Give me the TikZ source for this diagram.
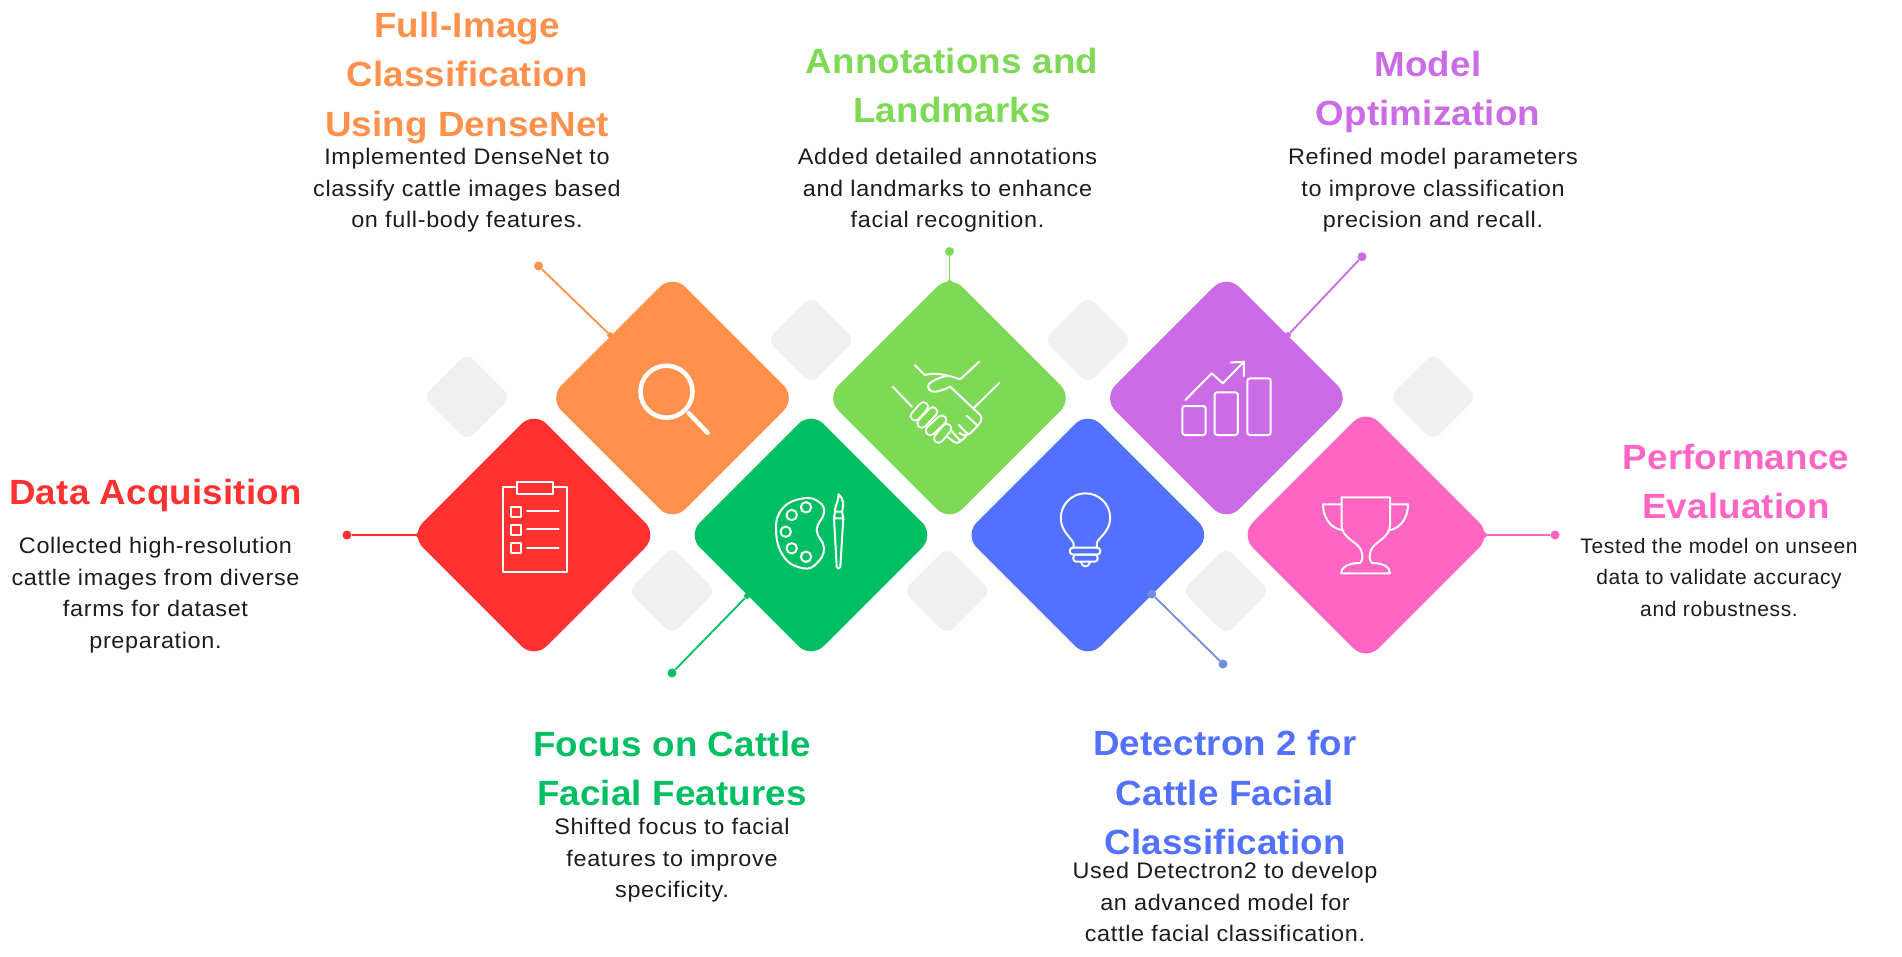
\documentclass[tikz,border=0pt]{standalone}
\usepackage{fontspec}
\setmainfont{Liberation Sans}
\newfontfamily\titlefont[FakeStretch=1.05,LetterSpace=0.5]{Liberation Sans Bold}
\newfontfamily\bodyfont[FakeStretch=1.04,LetterSpace=3]{Liberation Sans}
\newfontfamily\bodyfontsmall[LetterSpace=3]{Liberation Sans}
\definecolor{cRed}{HTML}{FF3131}
\definecolor{cOrange}{HTML}{FF914D}
\definecolor{cDark}{HTML}{00BF63}
\definecolor{cLime}{HTML}{7ED957}
\definecolor{cBlue}{HTML}{5271FF}
\definecolor{cPurple}{HTML}{CB6CE6}
\definecolor{cPink}{HTML}{FF66C4}
\definecolor{cGrey}{HTML}{F0F0F0}
\definecolor{cInk}{HTML}{1C1C1C}
\definecolor{cSteel}{HTML}{6F8FD8}
\tikzset{
  bigdia/.style={rectangle,rounded corners=18pt,rotate=45,minimum width=175pt,minimum height=175pt,inner sep=0pt,fill=#1,draw=none},
  greydia/.style={rectangle,rounded corners=9pt,rotate=45,minimum width=62pt,minimum height=62pt,inner sep=0pt,fill=cGrey,draw=none},
  enddot/.style={circle,fill=#1,minimum size=9pt,inner sep=0pt,draw=none},
  joint/.style={circle,fill=#1,minimum size=6pt,inner sep=0pt,draw=none},
  stem/.style={draw=#1,line width=1.8pt},
  ttl/.style={text=#1,align=center,inner sep=0pt,font=\titlefont\fontsize{35}{49.5}\selectfont},
  bdy/.style={text=cInk,align=center,inner sep=0pt,font=\bodyfont\fontsize{22.5}{31.5}\selectfont},
  bdysmall/.style={text=cInk,align=center,inner sep=0pt,font=\bodyfontsmall\fontsize{21}{31.5}\selectfont},
  ico/.style={draw=white,line width=2pt,line join=round,line cap=round,fill=none},
  icofat/.style={draw=white,line width=4.5pt,line cap=round,fill=none},
}
\begin{document}
\begin{tikzpicture}[x=1pt,y=-1pt]
\useasboundingbox (0,0) rectangle (1902,956);
% grey background diamonds
\node[greydia] (g1) at (467,397) {};
\node[greydia] (g2) at (811,340) {};
\node[greydia] (g3) at (1088,340) {};
\node[greydia] (g4) at (1433,397) {};
\node[greydia] (g5) at (672,591) {};
\node[greydia] (g6) at (947,591) {};
\node[greydia] (g7) at (1226,591) {};
% main diamonds
\node[bigdia=cRed] (dRed) at (534,535) {};
\node[bigdia=cOrange] (dOrange) at (672.5,398) {};
\node[bigdia=cDark] (dDark) at (811,535) {};
\node[bigdia=cLime] (dLime) at (949.5,398) {};
\node[bigdia=cBlue] (dBlue) at (1087.8,535) {};
\node[bigdia=cPurple] (dPurple) at (1226.4,398) {};
\node[bigdia=cPink,minimum width=178pt,minimum height=178pt] (dPink) at (1366,535) {};
% stems
\node[joint=cRed] (jRed) at (419,535) {};
\node[enddot=cRed] (eRed) at (347,535) {};
\draw[stem=cRed] (jRed) -- (eRed);
\node[joint=cOrange] (jOrange) at (610,335) {};
\node[enddot=cOrange] (eOrange) at (538.6,266) {};
\draw[stem=cOrange] (jOrange) -- (eOrange);
\node[joint=cDark] (jDark) at (747,596) {};
\node[enddot=cDark] (eDark) at (672,673) {};
\draw[stem=cDark] (jDark) -- (eDark);
\node[joint=cLime] (jLime) at (949.5,283) {};
\node[enddot=cLime] (eLime) at (949.5,251.5) {};
\draw[stem=cLime] (jLime) -- (eLime);
\node[enddot=cSteel] (jBlue) at (1151.8,594) {};
\node[enddot=cSteel] (eBlue) at (1223,664) {};
\draw[stem=cSteel] (jBlue) -- (eBlue);
\node[joint=cPurple] (jPurple) at (1288,335) {};
\node[enddot=cPurple] (ePurple) at (1362,256.7) {};
\draw[stem=cPurple] (jPurple) -- (ePurple);
\node[joint=cPink] (jPink) at (1484,535) {};
\node[enddot=cPink] (ePink) at (1555,535) {};
\draw[stem=cPink] (jPink) -- (ePink);
% clipboard
\begin{scope}[shift={(534,535)}]
\draw[ico] (-19,-48) -- (-31,-48) -- (-31,37) -- (33,37) -- (33,-48) -- (19,-48);
\draw[ico] (-17,-53) rectangle (19,-41);
\foreach \yy in {-28,-10,8}{\draw[ico] (-23.5,\yy) rectangle (-13.5,\yy+9.5);}
\foreach \yy in {-24,-5.7,12.7}{\draw[ico] (-7,\yy) -- (24.6,\yy);}
\end{scope}
% magnifier
\begin{scope}[shift={(672.5,398)}]
\draw[icofat] (-6,-6.3) circle [radius=26];
\draw[icofat] (16.4,15.3) -- (35,34.7);
\end{scope}
% palette and brush
\begin{scope}[shift={(811,535)}]
\draw[ico] plot[smooth cycle,tension=0.75] coordinates {(-35,-5) (-28,-27) (-7.7,-36.7) (8,-33) (13,-22) (5.7,-5) (13,13) (6,28) (-7.7,33.3) (-27,22)};
\foreach \hx/\hy in {-5/-27.7,-19.3/-20,-25.3/-3.3,-19.3/13.3,-5/21.7}{\draw[ico] (\hx,\hy) circle [radius=5.2];}
\draw[ico] (27.3,-41) .. controls (33,-36) and (33,-30) .. (31,-23.3) -- (24,-23.3) .. controls (24,-31) and (28,-33) .. (27.3,-41);
\draw[ico] (24,-23.3) -- (23,-16.7) -- (32.3,-16.7) -- (31,-23.3);
\draw[ico] (23,-16.7) -- (25.7,32) .. controls (26,34) and (29,34) .. (29.3,32) -- (32.3,-16.7);
\end{scope}
% handshake
\begin{scope}[shift={(949.5,398)}]
\draw[ico] (-34.7,-33) -- (-24.7,-23) .. controls (-15,-25.5) and (-5,-24) .. (10.7,-18.7) -- (29.7,-36.3);
\draw[ico] (-2.7,-22.5) .. controls (-10,-20) and (-17,-18) .. (-20.5,-14) .. controls (-23,-10) and (-20,-6) .. (-14.3,-6.3) .. controls (-9,-7) and (-4,-9) .. (0.7,-11.3) -- (30.7,17) .. controls (33,20) and (32,24) .. (28,28) .. controls (24,32) and (21,36) .. (17,37) .. controls (15,38) and (12,37) .. (10,35);
\draw[ico] (27.3,27) -- (17,17.5);
\draw[ico] (18,36) -- (9,26.5);
\draw[ico] (11,43) .. controls (9,46) and (5,45) .. (2,42) -- (-3,38);
\draw[ico] (17,37) .. controls (16,40) and (13,42) .. (11,43) -- (2,33);
\draw[ico] (50,-15.3) -- (24,10.3);
\draw[ico] (-56.7,-11.3) -- (-37.7,8.7);
\foreach \ax/\ay/\bx/\by in {-34.3/18/-26/8.7, -27.7/25.3/-16.7/13.7, -19.3/32.7/-7.7/22, -11/40.3/-2.7/30.3}{
  \draw[draw=white,line width=11pt,line cap=round] (\ax,\ay) -- (\bx,\by);
  \draw[draw=cLime,line width=7pt,line cap=round] (\ax,\ay) -- (\bx,\by);
}
\end{scope}
% bulb
\begin{scope}[shift={(1087.8,535)}]
\draw[ico] (-14.3,12.7) -- (-14.3,8.3) .. controls (-15,4) and (-27,-3) .. (-27,-17) arc[start angle=180,end angle=360,radius=24.7] .. controls (22.4,-3) and (9,4) .. (9,8.3) -- (9,12.7);
\draw[ico,rounded corners=3pt] (-18,12.7) rectangle (12.5,19.5);
\draw[ico,rounded corners=3pt] (-14.5,19.5) rectangle (9.8,26.7);
\draw[ico] (-7,26.7) .. controls (-6,33) and (1,33) .. (2.5,26.7);
\end{scope}
% chart
\begin{scope}[shift={(1226.4,398)}]
\draw[ico,rounded corners=2.5pt] (-44,8) rectangle (-20.7,37);
\draw[ico,rounded corners=2.5pt] (-11.8,-5.7) rectangle (11.4,37);
\draw[ico,rounded corners=2.5pt] (21,-19.7) rectangle (44.3,37);
\draw[ico] (-41,2) -- (-14.6,-24.7) -- (-3.6,-14.7) -- (17.5,-36.3);
\draw[ico] (4.3,-35.5) -- (17.5,-36.3) -- (17.5,-22);
\end{scope}
% trophy
\begin{scope}[shift={(1366,535)}]
\draw[ico] (-24.5,-10) -- (-24.5,-37.7) -- (24,-37.7) -- (24,-10) .. controls (24,3) and (8,7) .. (5,15) .. controls (3,20) and (3,25) .. (6,28) .. controls (17,28) and (24,32) .. (24,38.3) -- (-25,38.3) .. controls (-25,32) and (-17,28) .. (-6,28) .. controls (-3,25) and (-3,20) .. (-5,15) .. controls (-8,7) and (-24.5,3) .. (-24.5,-10);
\draw[ico] (-24.5,-30.7) -- (-43,-30.7) .. controls (-43,-18) and (-36,-7) .. (-24.5,-5);
\draw[ico] (24,-30.7) -- (42,-30.7) .. controls (42,-18) and (35,-7) .. (24,-5);
\end{scope}
% titles
\node[ttl=cRed] (tData) at (155.5,495.5) {Data Acquisition};
\node[ttl=cOrange] (tFull) at (467,78) {Full-Image\\Classification\\Using DenseNet};
\node[ttl=cDark] (tFocus) at (672,768.5) {Focus on Cattle\\Facial Features};
\node[ttl=cLime] (tLime) at (952,85.5) {Annotations and\\Landmarks};
\node[ttl=cBlue] (tBlue) at (1225,792.5) {Detectron 2 for\\Cattle Facial\\Classification};
\node[ttl=cPurple] (tPurple) at (1428,92) {Model\\Optimization};
\node[ttl=cPink] (tPink) at (1736,481.5) {Performance\\Evaluation};
% descriptions
\node[bdy] (bData) at (155.5,595) {Collected high-resolution\\cattle images from diverse\\farms for dataset\\preparation.};
\node[bdy] (bFull) at (467,190.5) {Implemented DenseNet to\\classify cattle images based\\on full-body features.};
\node[bdy] (bFocus) at (672,860.5) {Shifted focus to facial\\features to improve\\specificity.};
\node[bdy] (bLime) at (947.5,190.5) {Added detailed annotations\\and landmarks to enhance\\facial recognition.};
\node[bdy] (bBlue) at (1225,902) {Used Detectron2 to develop\\an advanced model for\\cattle facial classification.};
\node[bdy] (bPurple) at (1433,190.5) {Refined model parameters\\to improve classification\\precision and recall.};
\node[bdysmall] (bPink) at (1719,577) {Tested the model on unseen\\data to validate accuracy\\and robustness.};
\end{tikzpicture}
\end{document}
